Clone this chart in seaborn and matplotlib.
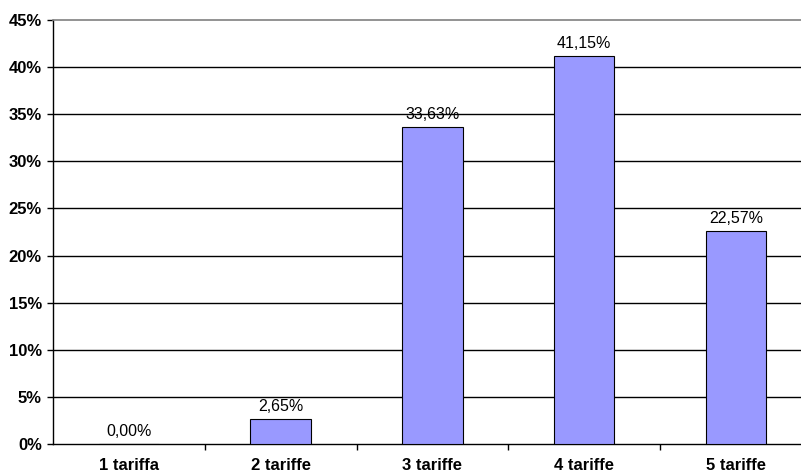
import matplotlib
matplotlib.use("Agg")
import matplotlib.pyplot as plt
from matplotlib.ticker import FixedLocator, FuncFormatter
import seaborn as sns
import pandas as pd

# Share of contracts by number of tariffs (percent)
categories = ["1 tariffa", "2 tariffe", "3 tariffe", "4 tariffe", "5 tariffe"]
shares = [0.00, 2.65, 33.63, 41.15, 22.57]
y_ticks = [0, 5, 10, 15, 20, 25, 30, 35, 40, 45]

df = pd.DataFrame({"categoria": categories, "quota": shares})

sns.set_theme(style="white")
plt.rcParams["font.family"] = ["Liberation Sans", "DejaVu Sans"]
plt.rcParams["text.color"] = "black"
plt.rcParams["xtick.color"] = "black"
plt.rcParams["ytick.color"] = "black"

fig = plt.figure(figsize=(8.01, 4.73), dpi=100)
ax = fig.add_axes([53 / 801, 29 / 473, 758.75 / 801, 424 / 473])

sns.barplot(data=df, x="categoria", y="quota", ax=ax, width=0.4,
            color="#9999FF", edgecolor="black", linewidth=0.8,
            saturation=1, zorder=3)

ax.set_ylim(0, 45)
ax.set_xlim(-0.5, len(categories) - 0.5)

# horizontal gridlines
for v in y_ticks[1:-1]:
    ax.axhline(v, color="black", linewidth=1.0, zorder=1)

ax.yaxis.set_major_locator(FixedLocator(y_ticks))
ax.yaxis.set_major_formatter(FuncFormatter(lambda v, p: f"{v:.0f}%"))
ax.tick_params(axis="y", which="major", left=True, length=4, width=1,
               color="black", labelcolor="black", labelsize=12, pad=4)
for lbl in ax.get_yticklabels():
    lbl.set_fontweight("bold")

# category labels centered, tick marks between categories
ax.tick_params(axis="x", which="major", length=0, labelsize=12, pad=10,
               labelcolor="black")
for lbl in ax.get_xticklabels():
    lbl.set_fontweight("bold")
ax.xaxis.set_minor_locator(FixedLocator([i + 0.5 for i in range(len(categories) - 1)]))
ax.tick_params(axis="x", which="minor", bottom=True, length=4, width=1, color="black")

ax.set_xlabel("")
ax.set_ylabel("")

for side in ["left", "bottom"]:
    ax.spines[side].set_color("black")
    ax.spines[side].set_linewidth(1.0)
ax.spines["top"].set_color("#808080")
ax.spines["top"].set_linewidth(1.2)
ax.spines["right"].set_visible(False)

labels = [f"{v:.2f}%".replace(".", ",") for v in shares]
ax.bar_label(ax.containers[0], labels=labels, padding=3.5, fontsize=11.5,
             color="black")

fig.savefig("out.png", dpi=100, facecolor="white")
